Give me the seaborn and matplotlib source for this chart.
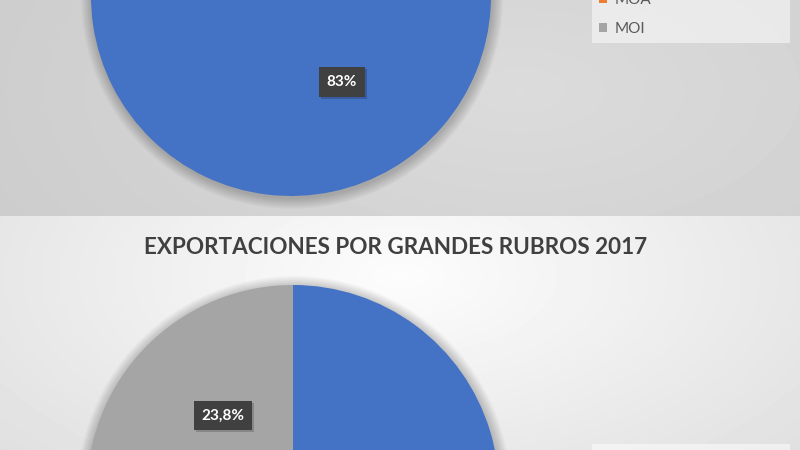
import numpy as np
import matplotlib
matplotlib.use("Agg")
import matplotlib.pyplot as plt
import seaborn as sns
from matplotlib.patches import Circle

sns.set_style("white")
plt.rcParams['font.family'] = ['Lato', 'Liberation Sans', 'DejaVu Sans']

# ---- data ----
categories = ["PP", "MOA", "MOI"]
top_values = [83, 9, 8]
top_labels = ["83%", "", ""]
bottom_values = [40.5, 35.7, 23.8]
bottom_labels = ["", "", "23,8%"]
bottom_title = "EXPORTACIONES POR GRANDES RUBROS 2017"
palette = sns.color_palette(["#4472C4", "#ED7D31", "#A5A5A5"])

W, H = 800, 450
fig = plt.figure(figsize=(8, 4.5), dpi=100)
ax = fig.add_axes([0, 0, 1, 1])


def iy(y):
    """image y (from top) -> data y (from bottom)"""
    return H - y


# ---- backgrounds ----
split = 216
yy, xx = np.mgrid[0:split, 0:W]
d = np.sqrt(((xx - 520) / 600.0) ** 2 + ((yy - 90) / 300.0) ** 2)
top_bg = np.clip(0.86 - 0.06 * d, 0.78, 0.9)
ax.imshow(top_bg, cmap="gray", vmin=0, vmax=1, extent=(0, W, iy(split), H),
          origin="upper", zorder=0, aspect="auto", interpolation="bilinear")

yy2, xx2 = np.mgrid[0:H - split, 0:W]
d2 = np.sqrt(((xx2 - 400) / 520.0) ** 2 + ((yy2 - 60) / 260.0) ** 2)
bot_bg = np.clip(0.99 - 0.11 * d2, 0.84, 0.99)
ax.imshow(bot_bg, cmap="gray", vmin=0, vmax=1, extent=(0, W, 0, iy(split)),
          origin="upper", zorder=0, aspect="auto", interpolation="bilinear")


def draw_pie(values, labels, cx, cy, r):
    # soft shadow
    for k in range(1, 12):
        ax.add_patch(Circle((cx + 1, cy - 2), r + k, color="black",
                            alpha=0.02, lw=0, zorder=1))
    wedges, _ = ax.pie(values, colors=palette, startangle=90, counterclock=False,
                       center=(cx, cy), radius=r, frame=True,
                       wedgeprops=dict(linewidth=0, zorder=2))
    for w, lab in zip(wedges, labels):
        if not lab:
            continue
        th = np.deg2rad((w.theta1 + w.theta2) / 2)
        tx = cx + 0.5 * r * np.cos(th)
        ty = cy + 0.5 * r * np.sin(th)
        ax.text(tx + 2, ty - 2, lab, ha="center", va="center", fontsize=11,
                fontweight="bold", color=(0, 0, 0, 0),
                bbox=dict(boxstyle="square,pad=0.5", fc="black", ec="none", alpha=0.18),
                zorder=4)
        ax.text(tx, ty, lab, ha="center", va="center", fontsize=11,
                fontweight="bold", color="white",
                bbox=dict(boxstyle="square,pad=0.5", fc="#404040", ec="none"),
                zorder=5)
    return wedges


top_wedges = draw_pie(top_values, top_labels, 291, iy(-4), 200)
bot_wedges = draw_pie(bottom_values, bottom_labels, 293, iy(491), 206)

# ---- title of lower chart ----
ax.text(396, iy(247), bottom_title, ha="center", va="center", fontsize=16.2,
        fontweight="bold", color="#404040", zorder=6)

# ---- legends ----
common = dict(frameon=True, fancybox=False, framealpha=0.5, facecolor="white",
              edgecolor="none", fontsize=11, labelcolor="#595959",
              handlelength=0.5, handleheight=0.5, handletextpad=0.5,
              labelspacing=1.0, borderpad=0.45, borderaxespad=0, mode="expand")
leg1 = ax.legend(top_wedges, categories, loc="lower left",
                 bbox_to_anchor=(592 / W, iy(43) / H, 198 / W, 0), **common)
leg1.set_zorder(7)
ax.add_artist(leg1)
leg2 = ax.legend(bot_wedges, categories, loc="upper left",
                 bbox_to_anchor=(592 / W, iy(444) / H, 198 / W, 0), **common)
leg2.set_zorder(7)

ax.set_xlim(0, W)
ax.set_ylim(0, H)
ax.set_aspect("auto")
ax.axis("off")

fig.savefig("out.png", dpi=100)
